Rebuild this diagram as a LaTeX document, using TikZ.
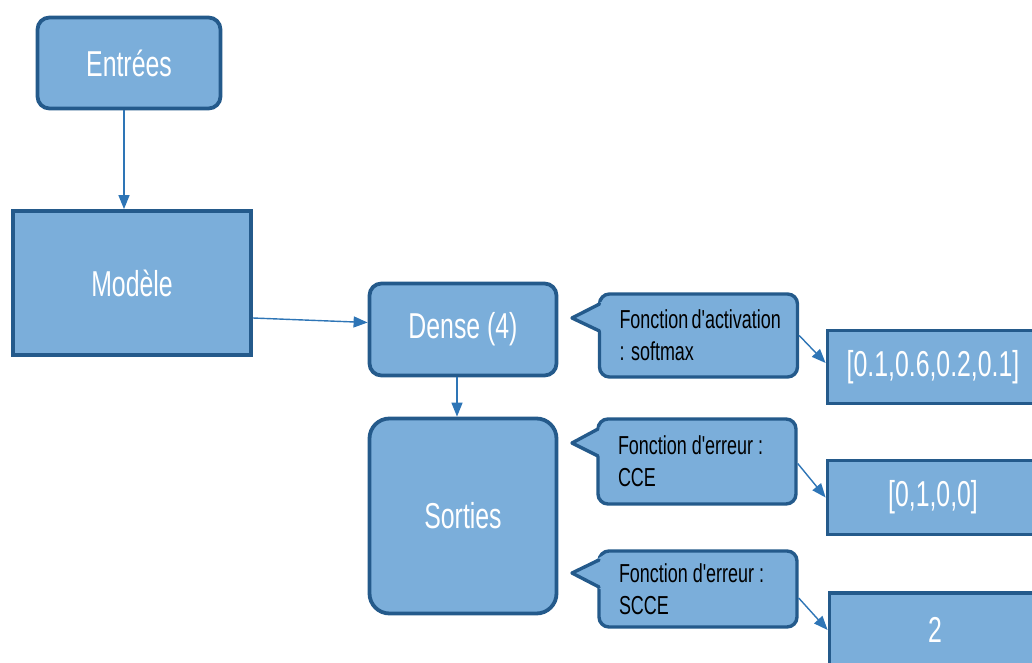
\documentclass[tikz,border=0pt]{standalone}
\usepackage{fontspec}
\setmainfont{Liberation Sans}
\newfontfamily\narrowsf[FakeStretch=0.69]{Liberation Sans}
\usetikzlibrary{arrows.meta}
\definecolor{boxfill}{HTML}{7BAEDA}
\definecolor{boxline}{HTML}{245A8B}
\definecolor{arrowc}{HTML}{2E75B6}
\tikzset{
  bigbox/.style={draw=boxline, fill=boxfill, line width=3.8pt, text=white,
    font=\narrowsf\fontsize{36}{43}\selectfont, inner sep=0pt},
  roundbox/.style={bigbox, rounded corners=12pt},
  callbox/.style={draw=boxline, fill=boxfill, line width=3.4pt, rounded corners=10pt,
    inner xsep=20pt, inner ysep=0pt, text=black, align=flush left, text width=158pt,
    font=\narrowsf\fontsize{26}{32}\selectfont},
  ptrfill/.style={fill=boxfill},
  ptredge/.style={draw=boxline, line width=3.4pt, line join=round, line cap=round},
  arr/.style={draw=arrowc, line width=1.4pt, -{Triangle[length=14pt,width=11pt]}},
}
\begin{document}
\begin{tikzpicture}[x=1pt,y=-1pt]
\useasboundingbox (0,0) rectangle (1032,663);
\clip (0,0) rectangle (1032,663);

% main boxes
\node[roundbox, minimum width=183pt, minimum height=91pt] (ent) at (129,63) {Entrées};
\node[bigbox, minimum width=238pt, minimum height=144pt] (mod) at (132,283) {Modèle};
\node[roundbox, minimum width=187pt, minimum height=92pt] (dense) at (463,329.5) {Dense (4)};
\node[bigbox, rounded corners=20pt, minimum width=187pt, minimum height=195pt] (sort) at (463,516) {Sorties};

% output boxes
\node[bigbox, minimum width=211pt, minimum height=73pt] (o1) at (933,367) {[0.1,0.6,0.2,0.1]};
\node[bigbox, minimum width=211pt, minimum height=74pt] (o2) at (933,497.5) {[0,1,0,0]};
\node[bigbox, minimum width=211pt, minimum height=74pt] (o3) at (935,630) {2};

% callouts
\node[callbox, minimum height=83pt] (c1) at (698.5,335.5) {Fonction~d'activation\\: softmax};
\node[callbox, minimum height=85pt] (c2) at (697,461.5) {Fonction d'erreur :\\CCE};
\node[callbox, minimum height=76pt] (c3) at (698,589) {Fonction d'erreur :\\SCCE};

% callout pointers
\fill[ptrfill] (572,318) -- (605,300) -- (605,334) -- cycle;
\draw[ptredge] (599.5,304) -- (572,318) -- (599.5,331);
\fill[ptrfill] (572,443) -- (604,425) -- (604,459) -- cycle;
\draw[ptredge] (598,429) -- (572,443) -- (598,456);
\fill[ptrfill] (572,573) -- (604,555) -- (604,591) -- cycle;
\draw[ptredge] (599,560) -- (572,573) -- (599,587);

% connectors
\draw[arr] ([xshift=-5pt]ent.south) -- ([xshift=-8pt]mod.north);
\draw[arr] ([yshift=-35pt]mod.east) -- ([yshift=7pt]dense.west);
\draw[arr] ([xshift=-6pt]dense.south) -- ([xshift=-6pt]sort.north);
\draw[arr] (c1.east) -- ([yshift=4pt]o1.west);
\draw[arr] ([yshift=-2pt]c2.east) -- (o2.west);
\draw[arr] ([yshift=-9pt]c3.east) -- (o3.west);
\end{tikzpicture}
\end{document}
